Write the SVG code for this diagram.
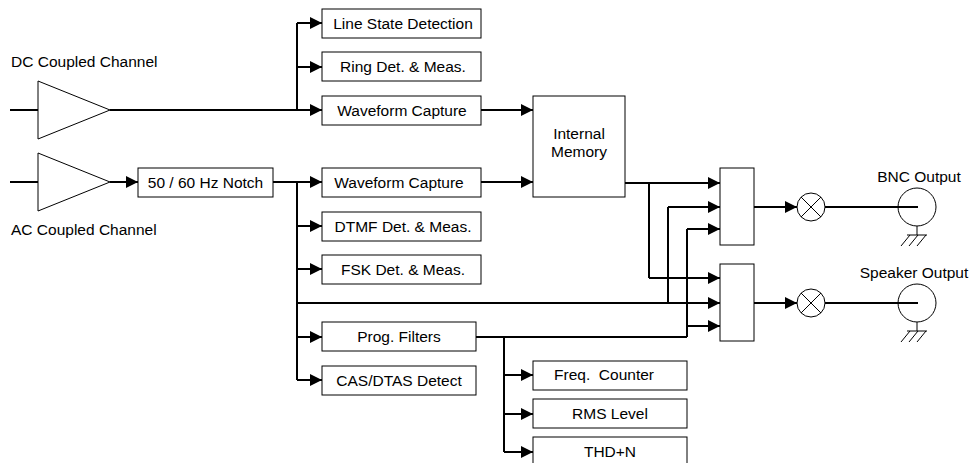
<svg xmlns="http://www.w3.org/2000/svg" width="975" height="463" viewBox="0 0 975 463">
<defs>
<marker id="ah" markerUnits="userSpaceOnUse" markerWidth="13" markerHeight="13" viewBox="0 0 13 13" refX="12" refY="6.5" orient="auto">
<path d="M0,0.5 L12,6.5 L0,12.5 Z" fill="#000"/>
</marker>
</defs>
<style>
.box{fill:#fff;stroke:#000;stroke-width:1}
.tri{fill:#fff;stroke:#000;stroke-width:1}
.t{font-family:"Liberation Sans",Arial,sans-serif;font-size:15.5px;fill:#000}
.c{text-anchor:middle}
.w{fill:none;stroke:#000;stroke-width:2}
.a{fill:none;stroke:#000;stroke-width:2;marker-end:url(#ah)}
.thin{fill:none;stroke:#000;stroke-width:1}
</style>
<rect width="975" height="463" fill="#fff"/>

<g id="connectors">
<path class="w" d="M10,110 H38 M110,110 H297 M297,23 V110"/>
<path class="a" d="M297,23 H322"/>
<path class="a" d="M297,67 H322"/>
<path class="a" d="M297,110 H322"/>
<path class="a" d="M481,110 H533"/>
<path class="w" d="M10,182 H38"/>
<path class="a" d="M110,182 H138"/>
<path class="w" d="M273,182 H297 M297,182 V380"/>
<path class="a" d="M297,182 H322"/>
<path class="a" d="M297,226 H322"/>
<path class="a" d="M297,269 H322"/>
<path class="a" d="M297,337 H322"/>
<path class="a" d="M297,380 H322"/>
<path class="a" d="M297,303 H720"/>
<path class="a" d="M481,182 H533"/>
<path class="a" d="M625,183 H720"/>
<path class="w" d="M649,183 V278"/>
<path class="a" d="M649,278 H720"/>
<path class="w" d="M668,207 V303"/>
<path class="a" d="M668,207 H720"/>
<path class="w" d="M476,337 H687 M687,229 V337"/>
<path class="a" d="M687,229 H720"/>
<path class="a" d="M687,326 H720"/>
<path class="w" d="M504,337 V452"/>
<path class="a" d="M504,375 H533"/>
<path class="a" d="M504,414 H533"/>
<path class="a" d="M504,452 H533"/>
<path class="a" d="M754,207 H797"/>
<path class="a" d="M754,303 H797"/>
<path class="w" d="M825,207 H918"/>
<path class="w" d="M825,303 H918"/>
</g>

<g id="dc-amp"><polygon class="tri" points="38,81 38,139 110,110"/></g>
<g id="dc-label"><text class="t" x="11" y="67">DC Coupled Channel</text></g>
<g id="ac-amp"><polygon class="tri" points="38,153 38,211 110,182"/></g>
<g id="ac-label"><text class="t" x="11" y="235">AC Coupled Channel</text></g>

<g id="notch"><rect class="box" x="138" y="168" width="135" height="29"/><text class="t c" x="205.5" y="188">50 / 60 Hz Notch</text></g>

<g id="line-state"><rect class="box" x="322" y="9" width="159" height="29"/><text class="t c" x="403" y="29">Line State Detection</text></g>
<g id="ring"><rect class="box" x="322" y="52" width="159" height="29"/><text class="t c" x="403" y="72">Ring Det. &amp; Meas.</text></g>
<g id="wave-dc"><rect class="box" x="322" y="96" width="159" height="29"/><text class="t c" x="402" y="116">Waveform Capture</text></g>
<g id="wave-ac"><rect class="box" x="322" y="168" width="159" height="29"/><text class="t c" x="399" y="188">Waveform Capture</text></g>
<g id="dtmf"><rect class="box" x="322" y="212" width="159" height="29"/><text class="t c" x="403" y="232">DTMF Det. &amp; Meas.</text></g>
<g id="fsk"><rect class="box" x="322" y="255" width="159" height="29"/><text class="t c" x="403" y="275">FSK Det. &amp; Meas.</text></g>
<g id="prog"><rect class="box" x="322" y="322" width="154" height="29"/><text class="t c" x="399" y="342">Prog. Filters</text></g>
<g id="cas"><rect class="box" x="322" y="366" width="154" height="29"/><text class="t c" x="399" y="386">CAS/DTAS Detect</text></g>

<g id="memory"><rect class="box" x="533" y="96" width="92" height="101"/><text class="t c" x="579" y="139">Internal</text><text class="t c" x="579" y="157">Memory</text></g>

<g id="freq"><rect class="box" x="533" y="361" width="154" height="29"/><text class="t c" x="604" y="380" xml:space="preserve" style="white-space:pre">Freq.  Counter</text></g>
<g id="rms"><rect class="box" x="533" y="399" width="154" height="29"/><text class="t c" x="610" y="419">RMS Level</text></g>
<g id="thd"><rect class="box" x="533" y="437" width="154" height="29"/><text class="t c" x="610" y="457">THD+N</text></g>

<g id="mux1"><rect class="box" x="720" y="168" width="34" height="77"/></g>
<g id="mux2"><rect class="box" x="720" y="264" width="34" height="77"/></g>

<g id="mult1"><circle class="box" cx="811" cy="207" r="14"/><path class="thin" d="M801,197 L821,217 M821,197 L801,217"/></g>
<g id="mult2"><circle class="box" cx="811" cy="303" r="14"/><path class="thin" d="M801,293 L821,313 M821,293 L801,313"/></g>

<g id="bnc"><circle class="thin" cx="917" cy="207" r="19"/><path class="w" d="M898,207 H918"/><path class="thin" d="M917,226 V235 M907,235 H927 M910,235 L901,246 M918,235 L909,246 M926,235 L917,246"/><text class="t c" x="919" y="182">BNC Output</text></g>
<g id="speaker"><circle class="thin" cx="917" cy="303" r="19"/><path class="w" d="M898,303 H918"/><path class="thin" d="M917,322 V331 M907,331 H927 M910,331 L901,342 M918,331 L909,342 M926,331 L917,342"/><text class="t c" x="914" y="278">Speaker Output</text></g>
</svg>
